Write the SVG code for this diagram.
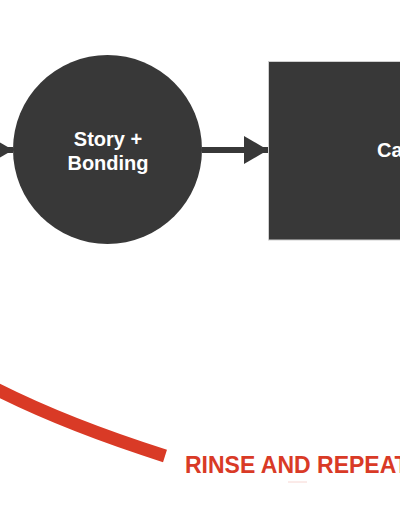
<svg xmlns="http://www.w3.org/2000/svg" width="400" height="516" viewBox="0 0 400 516">
  <style>
    .node { fill: #383838; }
    .box { fill: #383838; stroke: #cfcfcf; stroke-width: 1; }
    .label { font-family: "Liberation Sans", Arial, Helvetica, sans-serif; font-weight: bold; font-size: 20px; fill: #ffffff; }
    .conn { stroke: #383838; stroke-width: 6; fill: none; }
    .loop { stroke: #d93a26; stroke-width: 13; fill: none; stroke-linecap: butt; }
    .loopText { font-family: "Liberation Sans", Arial, Helvetica, sans-serif; font-weight: bold; font-size: 23px; fill: #d93a26; }
  </style>
  <defs>
    <marker id="arrow" viewBox="0 0 24 28" refX="24" refY="14" markerWidth="24" markerHeight="28" markerUnits="userSpaceOnUse" orient="auto">
      <path d="M0,0 L24,14 L0,28 Z" fill="#383838"/>
    </marker>
  </defs>
  <rect width="400" height="516" fill="#ffffff"/>

  <g id="connectors">
    <line class="conn" x1="-60" y1="150" x2="13" y2="150" marker-end="url(#arrow)"/>
    <line class="conn" x1="202" y1="150" x2="268" y2="150" marker-end="url(#arrow)"/>
    <path class="loop" d="M -12,385 Q 61,423 165,456"/>
    <line x1="288" y1="482" x2="307" y2="482" stroke="#d93a26" stroke-width="1" opacity="0.2"/>
  </g>

  <g id="node-story">
    <circle class="node" cx="107.5" cy="149.5" r="94.5"/>
    <text class="label" x="108" y="146" text-anchor="middle">Story +</text>
    <text class="label" x="108" y="169.5" text-anchor="middle">Bonding</text>
  </g>

  <g id="node-cta">
    <rect class="box" x="268.5" y="61.5" width="200" height="178.5"/>
    <text class="label" x="377" y="157">Ca</text>
  </g>

  <g id="label-rinse">
    <text class="loopText" x="185" y="473">RINSE AND REPEAT</text>
  </g>
</svg>
